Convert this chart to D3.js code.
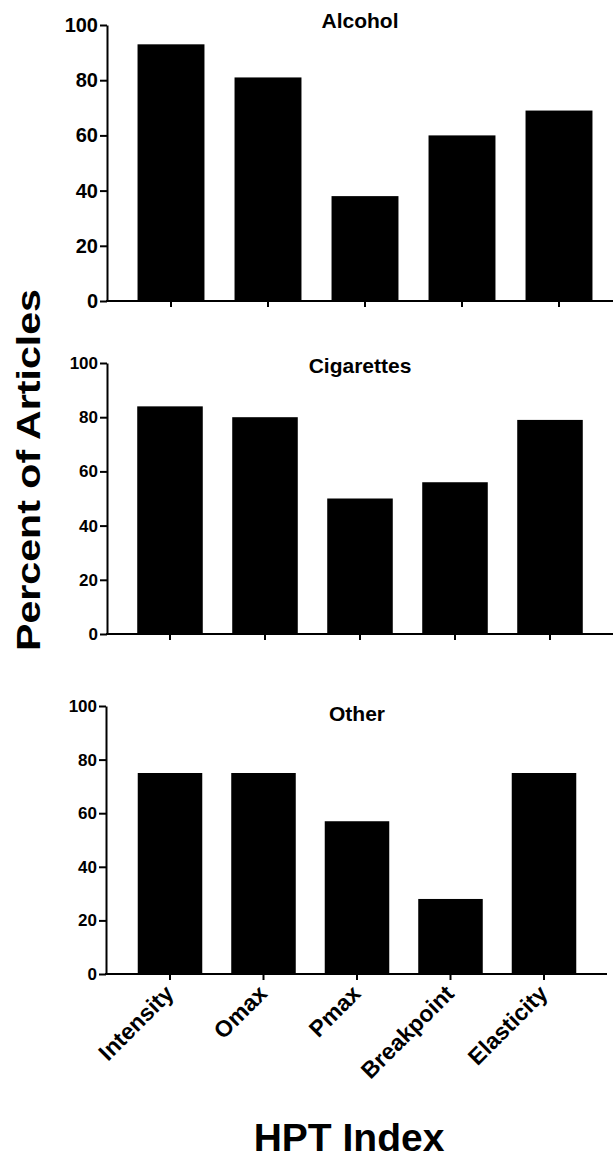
<!DOCTYPE html>
<html>
<head>
<meta charset="utf-8">
<script src="https://cdn.jsdelivr.net/npm/d3@7"></script>
<style>
  body { margin: 0; background: #fff; }
  svg text { font-family: "Liberation Sans", Arial, sans-serif; font-weight: bold; fill: #000; }
</style>
</head>
<body>
<div id="chart"></div>
<script>
var categories = ['Intensity', 'Omax', 'Pmax', 'Breakpoint', 'Elasticity'];
var alcohol = [93, 81, 38, 60, 69];
var cigarettes = [84, 80, 50, 56, 79];
var other = [75, 75, 57, 28, 75];
var yTicks = [0, 20, 40, 60, 80, 100];

var width = 613,
    height = 1161;

var svg = d3.select('#chart')
  .append('svg')
  .attr('width', width)
  .attr('height', height);

// one entry per panel: where it sits on the page
var panels = [
  { title: 'Alcohol', values: alcohol, left: 107, right: 613, top: 25, bottom: 301,
    band: [122.5, 607.5], titleX: 360, titleY: 28, tickFont: 20, labels: false },
  { title: 'Cigarettes', values: cigarettes, left: 107, right: 613, top: 363, bottom: 634,
    band: [122.5, 597.5], titleX: 360, titleY: 373, tickFont: 17, labels: false },
  { title: 'Other', values: other, left: 106, right: 607, top: 706, bottom: 974,
    band: [123.25, 590.75], titleX: 357, titleY: 721, tickFont: 17, labels: true }
];

panels.forEach(function(p) {
  var g = svg.append('g');

  var x = d3.scaleBand()
    .domain(categories)
    .range(p.band)
    .paddingInner(0.31)
    .paddingOuter(0.155);

  var y = d3.scaleLinear()
    .domain([0, 100])
    .range([p.bottom, p.top]);

  g.selectAll('.bar')
    .data(p.values)
    .enter()
    .append('rect')
    .attr('class', 'bar')
    .attr('x', function(d, i) { return x(categories[i]) })
    .attr('y', function(d) { return y(d) })
    .attr('width', x.bandwidth())
    .attr('height', function(d) { return y(0) - y(d) })
    .attr('fill', '#000');

  // y axis
  var yAxis = g.append('g')
    .attr('transform', 'translate(' + p.left + ',0)')
    .call(d3.axisLeft(y).tickValues(yTicks).tickSize(7).tickSizeOuter(0).tickPadding(2));
  yAxis.select('.domain').attr('stroke-width', 2);
  yAxis.selectAll('.tick line').attr('stroke-width', 2);
  yAxis.selectAll('.tick text')
    .style('font-size', p.tickFont + 'px');

  // x axis ticks
  var xAxis = g.append('g')
    .attr('transform', 'translate(0,' + p.bottom + ')')
    .call(d3.axisBottom(x).tickSize(6).tickSizeOuter(0).tickFormat(''));
  xAxis.select('.domain').remove();
  xAxis.selectAll('.tick line').attr('stroke-width', 2);

  g.append('line')
    .attr('x1', p.left - 1)
    .attr('x2', p.right)
    .attr('y1', p.bottom)
    .attr('y2', p.bottom)
    .attr('stroke', '#000')
    .attr('stroke-width', 2);

  g.append('text')
    .attr('x', p.titleX)
    .attr('y', p.titleY)
    .attr('text-anchor', 'middle')
    .style('font-size', '21px')
    .text(p.title);

  if (p.labels) {
    g.selectAll('.xlabel')
      .data(categories)
      .enter()
      .append('text')
      .attr('class', 'xlabel')
      .attr('text-anchor', 'end')
      .attr('transform', function(d) {
        return 'translate(' + (x(d) + x.bandwidth() / 2 + 5) + ',' + (p.bottom + 21) + ') rotate(-45)';
      })
      .style('font-size', '23px')
      .text(function(d) { return d });
  }
});

// axis titles
svg.append('text')
  .attr('transform', 'translate(40,470) rotate(-90)')
  .attr('text-anchor', 'middle')
  .attr('textLength', 362)
  .attr('lengthAdjust', 'spacingAndGlyphs')
  .style('font-size', '34px')
  .text('Percent of Articles');

svg.append('text')
  .attr('x', 349)
  .attr('y', 1151)
  .attr('text-anchor', 'middle')
  .style('font-size', '39px')
  .text('HPT Index');
</script>
</body>
</html>
